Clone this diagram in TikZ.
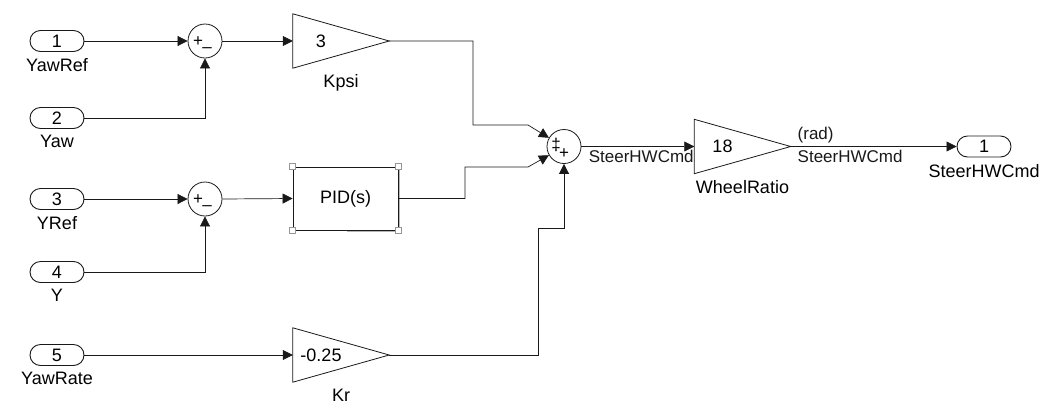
\documentclass[tikz,border=0pt]{standalone}
\usepackage{fontspec}
\setmainfont{Liberation Sans}
\usepackage{tikz}
\usetikzlibrary{positioning,arrows.meta,shapes.misc}
\definecolor{slline}{RGB}{25,25,25}
\definecolor{slgrey}{RGB}{150,150,150}
\tikzset{
  port/.style={draw=slline, line width=0.9pt, rounded rectangle,
               minimum width=54pt, minimum height=21pt, inner sep=0pt},
  sum/.style={draw=slline, line width=0.8pt, circle, minimum size=34pt, inner sep=0pt},
  gain/.style={minimum width=96pt, minimum height=54pt, inner sep=0pt},
  blk/.style={draw=slline, line width=0.8pt, line join=miter},
  pidbox/.style={draw=slline, line width=0.9pt, fill=white,
                 minimum width=105pt, minimum height=63pt},
  gainval/.style={xshift=-20pt},
  sgn/.style={font=\fontsize{17}{17}\selectfont, inner sep=0pt},
  tag/.style={label distance=3pt},
  sig/.style={font=\fontsize{17}{20}\selectfont},
  handle/.style={draw=slgrey, fill=white, line width=0.5pt},
  wire/.style={-{Triangle[length=10pt,width=10pt]}, line width=0.7pt, color=slline},
}

\begin{document}
\begin{tikzpicture}[x=1pt, y=-1pt, font=\fontsize{18}{21}\selectfont]
\useasboundingbox (0,0) rectangle (1060,416);
% inports
\node[port, label={[tag]below:YawRef}] (in1) at (57,41) {1};
\node[port, label={[tag]below:Yaw}] (in2) at (57,118) {2};
\node[port, label={[tag]below:YRef}] (in3) at (57,199) {3};
\node[port, label={[tag]below:Y}] (in4) at (57,272) {4};
\node[port, label={[tag]below:YawRate}] (in5) at (57,355) {5};
% sums
\node[sum, label={[sgn,xshift=-7pt,yshift=-1pt]center:+},
      label={[sgn,xshift=2pt,yshift=-9pt]center:–}] (sum1) at (205,41) {};
\node[sum, label={[sgn,xshift=-7pt,yshift=-1pt]center:+},
      label={[sgn,xshift=2pt,yshift=-9pt]center:–}] (sum3) at (205,199) {};
\node[sum, label={[sgn,xshift=-8pt,yshift=2pt]center:‡},
      label={[sgn,xshift=0pt,yshift=-7pt]center:+}] (sum2) at (564,146.5) {};
% gains and controller
\node[gain, label={[gainval]center:3}, label={[tag]below:Kpsi}] (kpsi) at (341,41) {};
\node[gain, label={[gainval]center:-0.25}, label={[tag]below:Kr}] (kr) at (341,355) {};
\node[gain, label={[gainval]center:18}, label={[tag]below:WheelRatio}] (wheel) at (742.5,146.5) {};
\foreach \g in {kpsi,kr,wheel}
  \draw[blk] (\g.north west) -- (\g.east) -- (\g.south west) -- cycle;
\draw[slgrey!70, line width=1pt] ([shift={(1.5pt,-1.5pt)}]345.5,167) rectangle ([shift={(1.5pt,-1.5pt)}]398,230);
\node[pidbox] (pid) at (345.5,198.5) {PID(s)};
\foreach \a in {north west,north east,south west,south east}
  \draw[handle] ([shift={(-3pt,-3pt)}]pid.\a) rectangle ([shift={(3pt,3pt)}]pid.\a);
% outport
\node[port, label={[tag]below:SteerHWCmd}] (out1) at (984,146.5) {1};
% bends
\coordinate (j1) at (473,125);
\coordinate (j1e) at (528,125);
\coordinate (j2) at (465,167);
\coordinate (j2e) at (528,167);
\coordinate (j3) at (538,228);
% signals
\draw[wire] (in1.east) -- (sum1.west);
\draw[wire] (in2.east) -| (sum1.south);
\draw[wire] (in3.east) -- (sum3.west);
\draw[wire] (in4.east) -| (sum3.south);
\draw[wire] (sum1.east) -- (kpsi.west);
\draw[wire] (sum3.east) -- (pid.west);
\draw[wire] (in5.east) -- (kr.west);
\draw[wire] (kpsi.east) -| (j1) -- (j1e) -- (sum2.150);
\draw[wire] (pid.east) -| (j2) -- (j2e) -- (sum2.210);
\draw[wire] (kr.east) -| (j3) -| (sum2.south);
\draw[wire] (sum2.east) -- node[sig, below, pos=0.53]{SteerHWCmd} (wheel.west);
\draw[wire] (wheel.east) -- node[sig, above right, pos=0.02]{(rad)}
  node[sig, below right, pos=0.02]{SteerHWCmd} (out1.west);
\end{tikzpicture}
\end{document}
